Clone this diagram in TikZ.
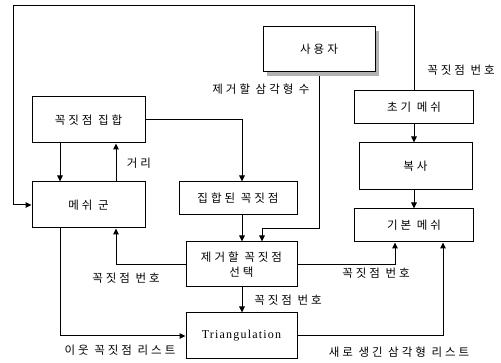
\documentclass[tikz,border=0pt]{standalone}
\usepackage{fontspec}
\newfontfamily\kr[LetterSpace=26]{Noto Sans CJK KR}
\newfontfamily\lat[LetterSpace=10]{Liberation Serif}
\usetikzlibrary{arrows.meta}
\begin{document}
\begin{tikzpicture}[x=1pt,y=-1pt,
  box/.style={draw,line width=1pt,fill=white,inner sep=2pt,font=\kr\fontsize{11.5}{15}\selectfont,align=center},
  lbl/.style={font=\kr\fontsize{11.5}{13}\selectfont,inner sep=1pt},
  arr/.style={line width=1pt,-{Triangle[length=6pt,width=5.5pt]}},
  shade/.style={fill=gray!60}]
\useasboundingbox (0,0) rectangle (501,363);
% shadow of user box
\fill[shade] (267,31) rectangle (379,76);
% boxes
\node[box,minimum width=112pt,minimum height=45pt] (user) at (319,49.5) {사용자};
\node[box,minimum width=113pt,minimum height=46pt] (vset) at (88.5,120) {꼭짓점 집합};
\node[box,minimum width=113pt,minimum height=46pt] (mesh) at (88.5,205) {메쉬 군};
\node[box,minimum width=118pt,minimum height=33pt] (cset) at (238,198.5) {집합된 꼭짓점};
\node[box,minimum width=111pt,minimum height=45pt] (sel) at (241.5,264.5) {제거할 꼭짓점\\선택};
\node[box,minimum width=111pt,minimum height=46pt,font=\lat\fontsize{12}{14}\selectfont] (tri) at (241.5,336) {Triangulation};
\node[box,minimum width=119pt,minimum height=33pt] (init) at (414,107.5) {초기 메쉬};
\node[box,minimum width=113pt,minimum height=47pt] (copy) at (415.5,166.5) {복사};
\node[box,minimum width=119pt,minimum height=33pt] (base) at (414,225.5) {기본 메쉬};
% helper coordinates
\coordinate (tl) at (13,6);
\coordinate (xa) at (60,0);
\coordinate (xb) at (116,0);
\coordinate (xc) at (242,0);
\coordinate (xd) at (395,0);
\coordinate (xe) at (443,0);
\coordinate (uturn) at (262,229);
% connectors
\draw[arr] (init.north) -- (init.north |- tl) -- (tl) |- (mesh.west);
\draw[arr] (init.south) -- (copy.north -| init.south);
\draw[arr] (copy.south -| base.north) -- (base.north);
\draw[arr] (vset.south -| xa) -- (mesh.north -| xa);
\draw[arr] (mesh.north -| xb) -- (vset.south -| xb);
\draw[arr] (vset.east) -| (cset.north -| xc);
\draw[arr] (cset.south -| xc) -- (sel.north -| xc);
\draw[arr] ([yshift=-3.5pt]user.south) |- (uturn) -- (sel.north -| uturn);
\draw[arr] (sel.west) -| (mesh.south -| xb);
\draw[arr] (sel.east) -| (base.south -| xd);
\draw[arr] (sel.south -| xc) -- (tri.north -| xc);
\draw[arr] (mesh.south -| xa) |- (tri.west);
\draw[arr] (tri.east) -| (base.south -| xe);
% labels
\node[lbl] (l1) at (461,70) {꼭짓점 번호};
\node[lbl] (l2) at (261,89) {제거할 삼각형 수};
\node[lbl] (l3) at (139,163) {거리};
\node[lbl] (l4) at (126,278) {꼭짓점 번호};
\node[lbl] (l5) at (376,273) {꼭짓점 번호};
\node[lbl] (l6) at (288,300) {꼭짓점 번호};
\node[lbl] (l7) at (120,350) {이웃 꼭짓점 리스트};
\node[lbl] (l8) at (399,352) {새로 생긴 삼각형 리스트};
\end{tikzpicture}
\end{document}
